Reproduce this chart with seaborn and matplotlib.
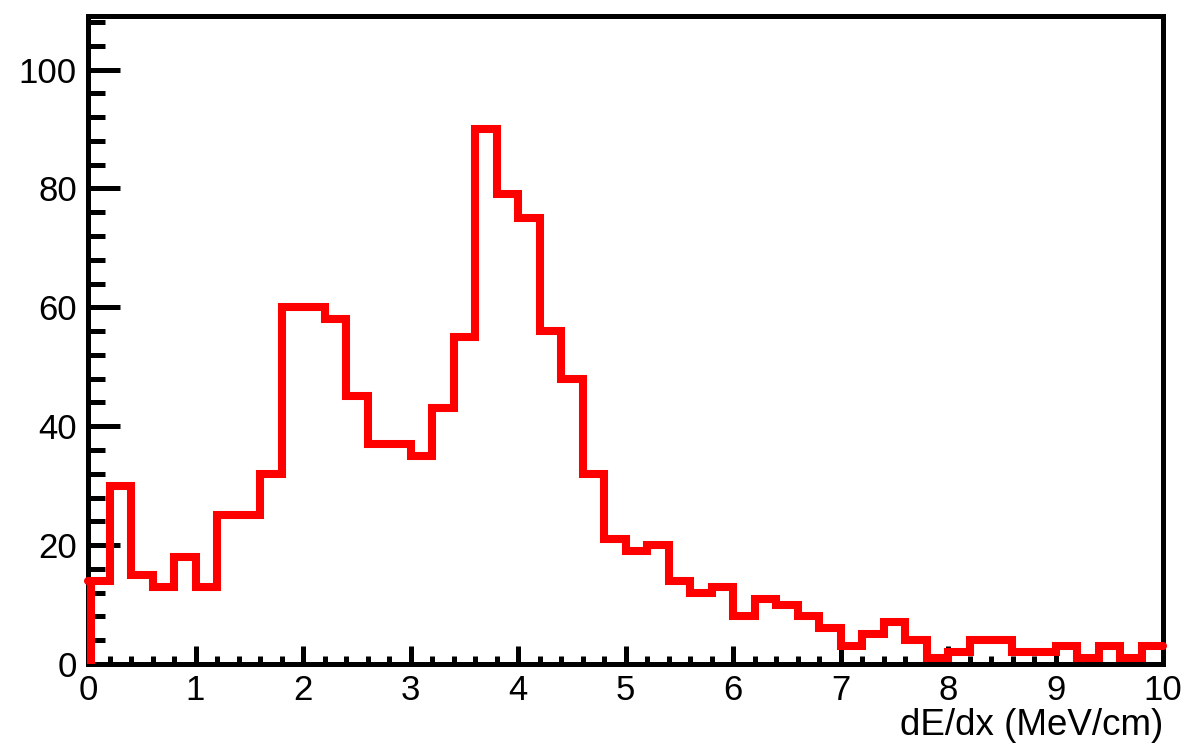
import numpy as np
import pandas as pd
import matplotlib
matplotlib.use("Agg")
import matplotlib.pyplot as plt
import seaborn as sns
from matplotlib.ticker import MultipleLocator

# Histogram binning: 50 bins of 0.2 MeV/cm between 0 and 10
x_min, x_max, bin_width = 0.0, 10.0, 0.2
n_bins = int(round((x_max - x_min) / bin_width))
bin_centers = x_min + bin_width * (np.arange(n_bins) + 0.5)

# Entries per bin
counts = [14, 30, 15, 13, 18, 13, 25, 25, 32, 60,
          60, 58, 45, 37, 37, 35, 43, 55, 90, 79,
          75, 56, 48, 32, 21, 19, 20, 14, 12, 13,
          8, 11, 10, 8, 6, 3, 5, 7, 4, 1,
          2, 4, 4, 2, 2, 3, 1, 3, 1, 3]

x_ticks = [0, 1, 2, 3, 4, 5, 6, 7, 8, 9, 10]
y_ticks = [0, 20, 40, 60, 80, 100]
x_label = "dE/dx (MeV/cm)"

sns.set_theme(style="white")
plt.rcParams["font.family"] = ["Liberation Sans", "DejaVu Sans"]
plt.rcParams["text.color"] = "black"
plt.rcParams["axes.labelcolor"] = "black"

df = pd.DataFrame({"dedx": bin_centers, "entries": counts})

fig = plt.figure(figsize=(11.86, 7.44), dpi=100)
ax = fig.add_axes([88 / 1186, (744 - 664) / 744, (1163 - 88) / 1186, (664 - 16) / 744])

hist_color = "#ff0000"
hist_lw = 5.8
sns.histplot(data=df, x="dedx", weights="entries", binwidth=bin_width,
             binrange=(x_min, x_max), element="step", fill=False,
             color=hist_color, linewidth=hist_lw, ax=ax, zorder=5)
for ln in ax.lines:
    ln.set_clip_on(False)
    ln.set_solid_joinstyle("miter")

# Rising edge of the first bin from zero
ax.vlines(x_min + 0.03, 0, counts[0], color=hist_color, linewidth=hist_lw,
          zorder=6, clip_on=False)

ax.set_xlim(x_min, x_max)
ax.set_ylim(0, 109)
ax.set_xticks(x_ticks)
ax.set_yticks(y_ticks)
ax.set_xticklabels([str(t) for t in x_ticks])
ax.set_yticklabels([str(t) for t in y_ticks])
ax.xaxis.set_minor_locator(MultipleLocator(0.2))
ax.yaxis.set_minor_locator(MultipleLocator(4))

ax.tick_params(axis="both", which="both", direction="in", color="black",
               labelcolor="black", width=3.6, top=False, right=False,
               bottom=True, left=True, labelsize=25)
ax.tick_params(axis="x", which="major", length=13, pad=7)
ax.tick_params(axis="x", which="minor", length=6)
ax.tick_params(axis="y", which="major", length=23, pad=8)
ax.tick_params(axis="y", which="minor", length=12)

for side in ["top", "bottom", "left", "right"]:
    ax.spines[side].set_visible(True)
    ax.spines[side].set_color("black")
    ax.spines[side].set_linewidth(3.6)
    ax.spines[side].set_zorder(4)

ax.set_ylabel("")
ax.set_xlabel(x_label, fontsize=26.5, loc="right", labelpad=1, color="black")
ax.grid(False)

fig.savefig("out.png", dpi=100, facecolor="white")
